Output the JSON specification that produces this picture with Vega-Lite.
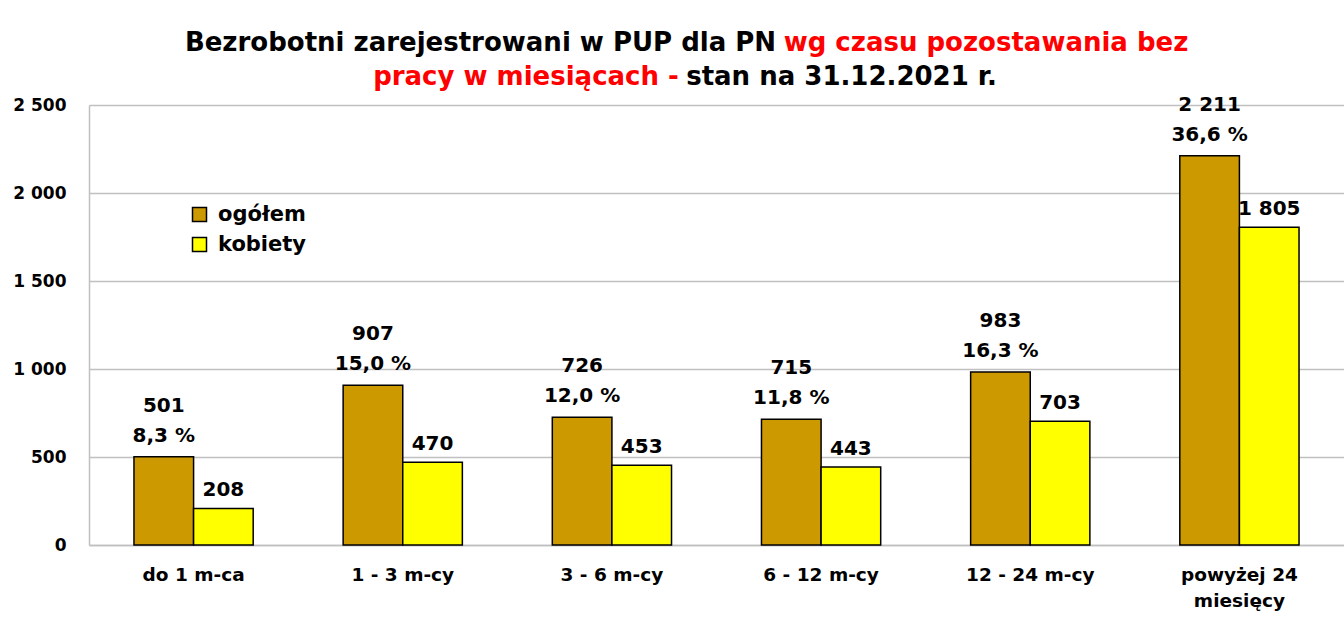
{
  "$schema": "https://vega.github.io/schema/vega-lite/v6.json",
  "autosize": "none",
  "width": 1255,
  "height": 440,
  "padding": {"left": 89, "top": 105, "right": 0, "bottom": 84},
  "background": "white",
  "config": {
    "font": "DejaVu Sans",
    "view": {"stroke": null}
  },
  "data": {
    "values": [
      {"okres": "do 1 m-ca", "grupa": "ogółem", "wartosc": 501, "etykieta": "501", "procent": "8,3 %"},
      {"okres": "do 1 m-ca", "grupa": "kobiety", "wartosc": 208, "etykieta": "208", "procent": ""},
      {"okres": "1 - 3 m-cy", "grupa": "ogółem", "wartosc": 907, "etykieta": "907", "procent": "15,0 %"},
      {"okres": "1 - 3 m-cy", "grupa": "kobiety", "wartosc": 470, "etykieta": "470", "procent": ""},
      {"okres": "3 - 6 m-cy", "grupa": "ogółem", "wartosc": 726, "etykieta": "726", "procent": "12,0 %"},
      {"okres": "3 - 6 m-cy", "grupa": "kobiety", "wartosc": 453, "etykieta": "453", "procent": ""},
      {"okres": "6 - 12 m-cy", "grupa": "ogółem", "wartosc": 715, "etykieta": "715", "procent": "11,8 %"},
      {"okres": "6 - 12 m-cy", "grupa": "kobiety", "wartosc": 443, "etykieta": "443", "procent": ""},
      {"okres": "12 - 24 m-cy", "grupa": "ogółem", "wartosc": 983, "etykieta": "983", "procent": "16,3 %"},
      {"okres": "12 - 24 m-cy", "grupa": "kobiety", "wartosc": 703, "etykieta": "703", "procent": ""},
      {"okres": "powyżej 24 miesięcy", "grupa": "ogółem", "wartosc": 2211, "etykieta": "2 211", "procent": "36,6 %"},
      {"okres": "powyżej 24 miesięcy", "grupa": "kobiety", "wartosc": 1805, "etykieta": "1 805", "procent": ""}
    ]
  },
  "encoding": {
    "x": {
      "field": "okres",
      "type": "nominal",
      "sort": null,
      "scale": {"paddingInner": 0.43, "paddingOuter": 0.215}
    },
    "xOffset": {
      "field": "grupa",
      "type": "nominal",
      "sort": ["ogółem", "kobiety"],
      "scale": {"domain": ["ogółem", "kobiety"]}
    },
    "y": {
      "field": "wartosc",
      "type": "quantitative",
      "scale": {"domain": [0, 2500], "nice": false}
    }
  },
  "layer": [
    {
      "mark": {"type": "bar", "stroke": "#000000", "strokeWidth": 1.5},
      "encoding": {
        "x": {
          "field": "okres",
          "type": "nominal",
          "sort": null,
          "axis": {
            "title": "wg czasu pozostawania bez",
            "titleColor": "#FF0000",
            "titleFont": "DejaVu Sans",
            "titleFontSize": 26,
            "titleFontWeight": "bold",
            "titleAlign": "center",
            "titleBaseline": "alphabetic",
            "titleX": 896.5,
            "titleY": -495,
            "labelAngle": 0,
            "labelFont": "DejaVu Sans",
            "labelFontSize": 18.5,
            "labelFontWeight": "bold",
            "labelColor": "#000000",
            "labelPadding": 20,
            "labelLineHeight": 26,
            "labelExpr": "datum.label == 'powyżej 24 miesięcy' ? ['powyżej 24', 'miesięcy'] : datum.label",
            "ticks": false,
            "domain": true,
            "domainColor": "#c0c0c0",
            "domainWidth": 1.5
          }
        },
        "y": {
          "field": "wartosc",
          "type": "quantitative",
          "axis": {
            "values": [0, 500, 1000, 1500, 2000, 2500],
            "labelExpr": "replace(format(datum.value, ','), ',', ' ')",
            "labelFont": "DejaVu Sans",
            "labelFontSize": 17,
            "labelFontWeight": "bold",
            "labelColor": "#000000",
            "labelPadding": 23,
            "ticks": false,
            "domain": true,
            "domainColor": "#c0c0c0",
            "domainWidth": 1.5,
            "grid": true,
            "gridColor": "#c0c0c0",
            "gridWidth": 1.5,
            "title": "pracy w miesiącach -",
            "titleColor": "#FF0000",
            "titleFont": "DejaVu Sans",
            "titleFontSize": 26,
            "titleFontWeight": "bold",
            "titleAngle": 0,
            "titleAlign": "center",
            "titleBaseline": "alphabetic",
            "titleX": 436.5,
            "titleY": -21
          }
        },
        "color": {
          "field": "grupa",
          "type": "nominal",
          "scale": {"domain": ["ogółem", "kobiety"], "range": ["#CC9900", "#FFFF00"]},
          "legend": {
            "title": null,
            "orient": "none",
            "legendX": 100,
            "legendY": 99,
            "symbolType": "square",
            "symbolSize": 196,
            "symbolStrokeColor": "#000000",
            "symbolStrokeWidth": 1.5,
            "symbolOpacity": 1,
            "labelFont": "DejaVu Sans",
            "labelFontSize": 21,
            "labelFontWeight": "bold",
            "labelColor": "#000000",
            "labelOffset": 8,
            "rowPadding": 8
          }
        }
      }
    },
    {
      "transform": [{"filter": "datum.grupa == 'ogółem'"}],
      "mark": {"type": "text", "dy": -51, "baseline": "middle", "fontSize": 20, "fontWeight": "bold", "font": "DejaVu Sans", "color": "#000000"},
      "encoding": {
        "text": {"field": "etykieta"},
        "x": {
          "field": "okres",
          "type": "nominal",
          "sort": null,
          "axis": {
            "orient": "top",
            "labels": false,
            "ticks": false,
            "domain": false,
            "grid": false,
            "title": "Bezrobotni zarejestrowani w PUP dla PN",
            "titleColor": "#000000",
            "titleFont": "DejaVu Sans",
            "titleFontSize": 26,
            "titleFontWeight": "bold",
            "titleAngle": 0,
            "titleAlign": "center",
            "titleBaseline": "alphabetic",
            "titleX": 391,
            "titleY": -55
          }
        },
        "y": {
          "field": "wartosc",
          "type": "quantitative",
          "axis": {
            "orient": "right",
            "labels": false,
            "ticks": false,
            "domain": false,
            "grid": false,
            "title": "stan na 31.12.2021 r.",
            "titleColor": "#000000",
            "titleFont": "DejaVu Sans",
            "titleFontSize": 26,
            "titleFontWeight": "bold",
            "titleAngle": 0,
            "titleAlign": "center",
            "titleBaseline": "alphabetic",
            "titleX": -503,
            "titleY": -21
          }
        }
      }
    },
    {
      "transform": [{"filter": "datum.grupa == 'ogółem'"}],
      "mark": {"type": "text", "dy": -21, "baseline": "middle", "fontSize": 20, "fontWeight": "bold", "font": "DejaVu Sans", "color": "#000000"},
      "encoding": {
        "text": {"field": "procent"},
        "x": {"field": "okres", "type": "nominal", "sort": null, "axis": null},
        "y": {"field": "wartosc", "type": "quantitative", "axis": null}
      }
    },
    {
      "transform": [{"filter": "datum.grupa == 'kobiety'"}],
      "mark": {"type": "text", "dy": -18, "baseline": "middle", "fontSize": 20, "fontWeight": "bold", "font": "DejaVu Sans", "color": "#000000"},
      "encoding": {
        "text": {"field": "etykieta"},
        "x": {"field": "okres", "type": "nominal", "sort": null, "axis": null},
        "y": {"field": "wartosc", "type": "quantitative", "axis": null}
      }
    }
  ],
  "resolve": {"axis": {"x": "independent", "y": "independent"}}
}
